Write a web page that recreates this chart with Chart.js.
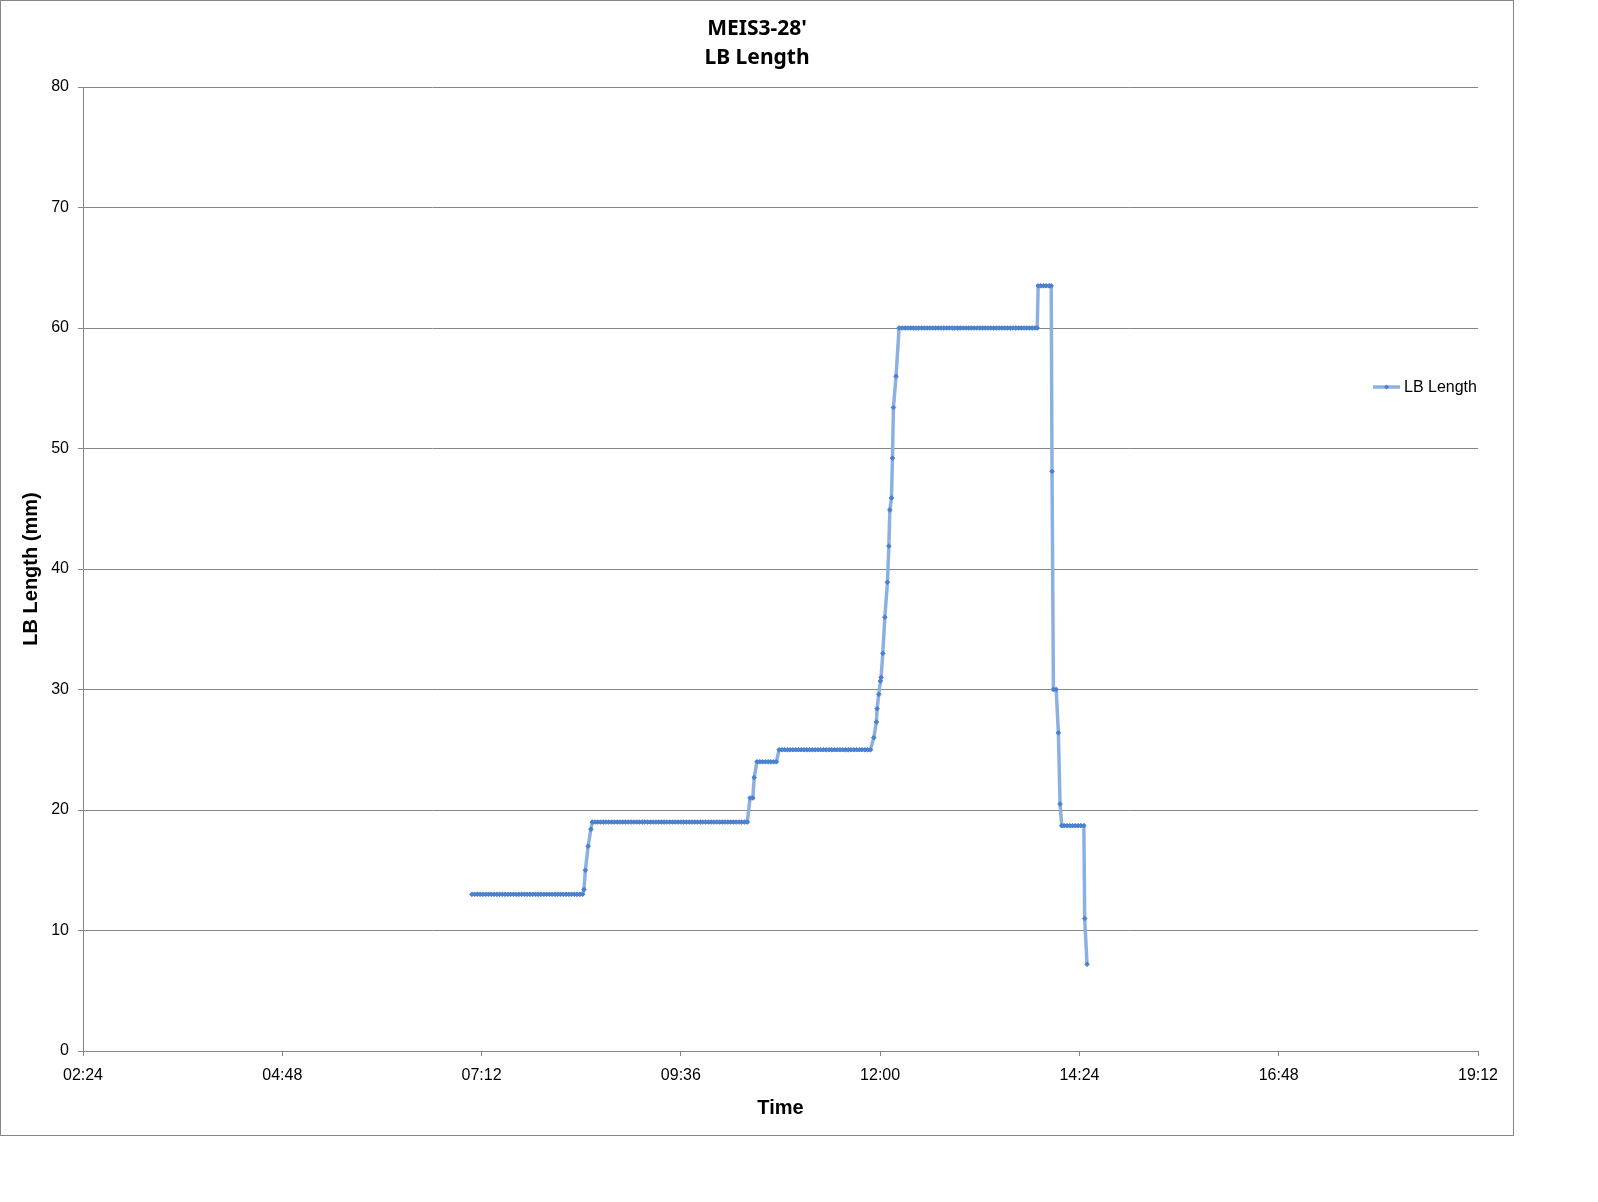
<!DOCTYPE html>
<html>
<head>
<meta charset="utf-8">
<title>MEIS3-28' LB Length</title>
<script src="https://cdn.jsdelivr.net/npm/chart.js@4.4.0/dist/chart.umd.min.js"></script>
<style>
    html, body { margin: 0; padding: 0; background: #fff; }
    #box {
        position: absolute;
        left: 0;
        top: 0;
        width: 1512px;
        height: 1134px;
        border: 1px solid #868686;
    }
</style>
</head>
<body>
<div id="box"><canvas id="ChartLbLength"></canvas></div>
<script>
// Sample times, minutes since midnight
const times = [
    425, 427, 429, 431, 433, 435, 437, 439, 441, 443,
    445, 447, 449, 451, 453, 455, 457, 459, 461, 463,
    465, 467, 469, 471, 473, 475, 477, 479, 481, 483,
    485, 487, 489, 491, 493, 495, 497, 499, 501, 503, 505,
    506, 507, 509, 511,
    512, 514, 516, 518, 520, 522, 524, 526, 528, 530,
    532, 534, 536, 538, 540, 542, 544, 546, 548, 550,
    552, 554, 556, 558, 560, 562, 564, 566, 568, 570,
    572, 574, 576, 578, 580, 582, 584, 586, 588, 590,
    592, 594, 596, 598, 600, 602, 604, 606, 608, 610,
    612, 614, 616, 618, 620, 622, 624,
    626, 628, 629,
    631, 633, 635, 637, 639, 641, 643, 645,
    647, 649, 651, 653, 655, 657, 659, 661, 663, 665,
    667, 669, 671, 673, 675, 677, 679, 681, 683, 685,
    687, 689, 691, 693, 695, 697, 699, 701, 703, 705,
    707, 709, 711, 713,
    715.4, 717.3, 717.8, 719.0, 720.2, 720.7, 721.9, 723.4, 725.3, 726.3, 727.0, 728.2, 728.9, 729.6, 731.5,
    733.7, 736, 738, 740, 742, 744, 746, 748, 750, 752,
    754, 756, 758, 760, 762, 764, 766, 768, 770, 772,
    774, 776, 778, 780, 782, 784, 786, 788, 790, 792,
    794, 796, 798, 800, 802, 804, 806, 808, 810, 812,
    814, 816, 818, 820, 822, 824, 826, 828, 830, 832, 833.5,
    834.2, 836, 838, 840, 842, 843.6,
    844.2, 845.2, 847.2, 848.8, 850.0,
    851.2, 853, 855, 857, 859, 861, 863, 865, 867.2,
    867.8, 869.5
];

// LB Length (mm)
const lbLength = [
    13, 13, 13, 13, 13, 13, 13, 13, 13, 13,
    13, 13, 13, 13, 13, 13, 13, 13, 13, 13,
    13, 13, 13, 13, 13, 13, 13, 13, 13, 13,
    13, 13, 13, 13, 13, 13, 13, 13, 13, 13, 13,
    13.4, 15.0, 17.0, 18.4,
    19, 19, 19, 19, 19, 19, 19, 19, 19, 19,
    19, 19, 19, 19, 19, 19, 19, 19, 19, 19,
    19, 19, 19, 19, 19, 19, 19, 19, 19, 19,
    19, 19, 19, 19, 19, 19, 19, 19, 19, 19,
    19, 19, 19, 19, 19, 19, 19, 19, 19, 19,
    19, 19, 19, 19, 19, 19, 19,
    21.0, 21.0, 22.7,
    24, 24, 24, 24, 24, 24, 24, 24,
    25, 25, 25, 25, 25, 25, 25, 25, 25, 25,
    25, 25, 25, 25, 25, 25, 25, 25, 25, 25,
    25, 25, 25, 25, 25, 25, 25, 25, 25, 25,
    25, 25, 25, 25,
    26.0, 27.3, 28.4, 29.6, 30.7, 31.0, 33.0, 36.0, 38.9, 41.9, 44.9, 45.9, 49.2, 53.4, 56.0,
    60, 60, 60, 60, 60, 60, 60, 60, 60, 60,
    60, 60, 60, 60, 60, 60, 60, 60, 60, 60,
    60, 60, 60, 60, 60, 60, 60, 60, 60, 60,
    60, 60, 60, 60, 60, 60, 60, 60, 60, 60,
    60, 60, 60, 60, 60, 60, 60, 60, 60, 60, 60,
    63.5, 63.5, 63.5, 63.5, 63.5, 63.5,
    48.1, 30.0, 30.0, 26.4, 20.5,
    18.7, 18.7, 18.7, 18.7, 18.7, 18.7, 18.7, 18.7, 18.7,
    11.0, 7.2
];

// Axis ranges
const xMin = 144;   // 02:24
const xMax = 1152;  // 19:12
const xStep = 144;
const yMin = 0;
const yMax = 80;
const yStep = 10;

const titleLines = ["MEIS3-28'", 'LB Length'];
const seriesLabel = 'LB Length';

const lineColor = '#8cb0e0';
const markerColor = '#4a80d0';
const gridColor = '#868686';

function formatTime(minutes) {
    const h = Math.floor(minutes / 60);
    const m = Math.round(minutes % 60);
    return String(h).padStart(2, '0') + ':' + String(m).padStart(2, '0');
}

// Excel-style legend sitting inside the plot, right hand side
const sideLegend = {
    id: 'sideLegend',
    afterDraw(chart) {
        const ctx = chart.ctx;
        const ds = chart.data.datasets[0];
        const y = 386;

        ctx.save();
        ctx.strokeStyle = ds.borderColor;
        ctx.lineWidth = ds.borderWidth;
        ctx.beginPath();
        ctx.moveTo(1372, y);
        ctx.lineTo(1399, y);
        ctx.stroke();

        ctx.fillStyle = ds.pointBackgroundColor;
        ctx.beginPath();
        ctx.moveTo(1385.5, y - 2.5);
        ctx.lineTo(1388, y);
        ctx.lineTo(1385.5, y + 2.5);
        ctx.lineTo(1383, y);
        ctx.closePath();
        ctx.fill();

        ctx.fillStyle = '#000';
        ctx.font = '16px "Liberation Sans", Arial, sans-serif';
        ctx.textAlign = 'left';
        ctx.textBaseline = 'middle';
        ctx.fillText(ds.label, 1403, y + 1);
        ctx.restore();
    }
};

new Chart(document.getElementById('ChartLbLength'), {
    type: 'line',
    data: {
        datasets: [
            {
                label: seriesLabel,
                data: times.map((t, i) => ({ x: t, y: lbLength[i] })),
                borderColor: lineColor,
                borderWidth: 3.5,
                pointStyle: 'rectRot',
                pointRadius: 2.3,
                pointBorderWidth: 1,
                pointBackgroundColor: markerColor,
                pointBorderColor: markerColor,
                tension: 0
            }
        ]
    },
    options: {
        responsive: true,
        maintainAspectRatio: false,
        devicePixelRatio: 1,
        animation: false,
        layout: {
            padding: 0
        },
        plugins: {
            legend: { display: false },
            tooltip: { enabled: false },
            title: {
                display: true,
                text: titleLines,
                color: '#000',
                font: { family: '"Noto Sans", sans-serif', size: 21, weight: 'bold', lineHeight: 28.5 / 21 },
                padding: { top: 14, bottom: 15 }
            }
        },
        scales: {
            x: {
                type: 'linear',
                min: xMin,
                max: xMax,
                afterFit: (scale) => { scale.height = 84; },
                ticks: {
                    stepSize: xStep,
                    color: '#000',
                    padding: 10,
                    maxRotation: 0,
                    font: { family: '"Liberation Sans", Arial, sans-serif', size: 16 },
                    callback: (v) => formatTime(v)
                },
                grid: {
                    drawOnChartArea: false,
                    drawTicks: true,
                    tickLength: 5,
                    color: gridColor
                },
                border: { color: gridColor, width: 1 },
                title: {
                    display: true,
                    text: 'Time',
                    color: '#000',
                    font: { family: '"Liberation Sans", Arial, sans-serif', size: 20, weight: 'bold' },
                    padding: { top: 0, bottom: 15 }
                }
            },
            y: {
                min: yMin,
                max: yMax,
                afterFit: (scale) => { scale.width = 82; },
                ticks: {
                    stepSize: yStep,
                    color: '#000',
                    padding: 9,
                    font: { family: '"Liberation Sans", Arial, sans-serif', size: 16 }
                },
                grid: {
                    drawTicks: true,
                    tickLength: 5,
                    color: gridColor
                },
                border: { color: gridColor, width: 1 },
                title: {
                    display: true,
                    text: 'LB Length (mm)',
                    color: '#000',
                    font: { family: '"Liberation Sans", Arial, sans-serif', size: 20, weight: 'bold' },
                    padding: { top: 18, bottom: 0 }
                }
            },
            // empty right-hand margin so the chart title stays centred on the whole box
            yRight: {
                type: 'linear',
                position: 'right',
                min: yMin,
                max: yMax,
                afterFit: (scale) => { scale.width = 35; },
                ticks: { display: false },
                grid: { display: false },
                border: { display: false }
            }
        }
    },
    plugins: [sideLegend]
});
</script>
</body>
</html>
